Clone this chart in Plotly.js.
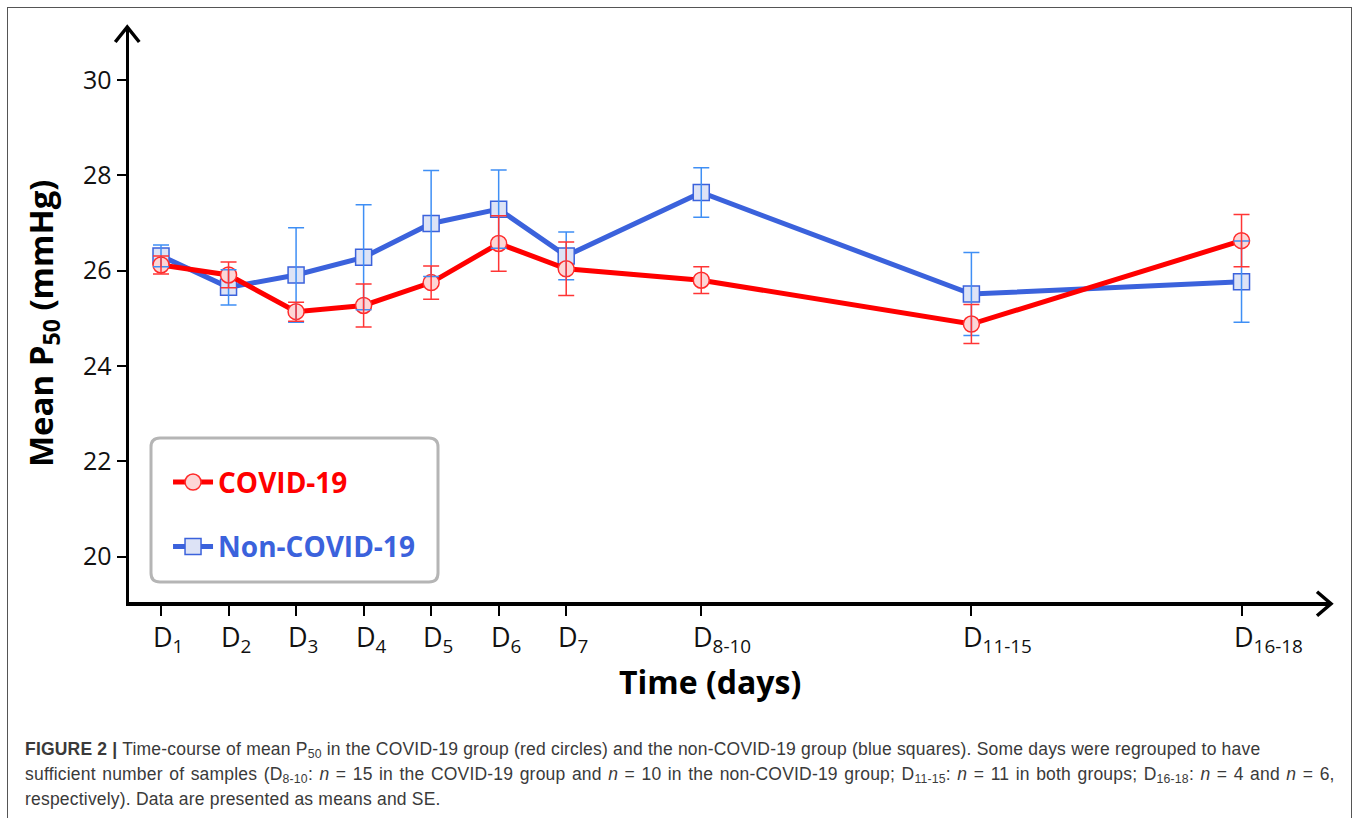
<!DOCTYPE html>
<html>
<head>
<meta charset="utf-8">
<script src="https://cdn.plot.ly/plotly-3.0.1.min.js"></script>
<style>
html,body{margin:0;padding:0;background:#fff;}
#wrap{position:relative;width:1357px;height:818px;overflow:hidden;background:#fff;}
#chart{position:absolute;left:0;top:0;width:1357px;height:818px;}
#frame{position:absolute;left:7px;top:7px;width:1345px;height:830px;border:1.5px solid #555;box-sizing:border-box;pointer-events:none;}
#caption{position:absolute;left:25px;top:737px;font-family:'Liberation Sans',Arial,sans-serif;font-size:17.5px;letter-spacing:0.2px;line-height:25px;color:#3a3a3a;white-space:nowrap;}
#caption sub{font-size:70%;vertical-align:-0.25em;line-height:0;}
#caption .l2{word-spacing:1.4px;}
</style>
</head>
<body>
<div id="wrap">
  <div id="chart"></div>
  <div id="frame"></div>
  <div id="caption"><b>FIGURE 2 |</b> Time-course of mean P<sub>50</sub> in the COVID-19 group (red circles) and the non-COVID-19 group (blue squares). Some days were regrouped to have<br><span class="l2">sufficient number of samples (D<sub>8-10</sub>: <i>n</i> = 15 in the COVID-19 group and <i>n</i> = 10 in the non-COVID-19 group; D<sub>11-15</sub>: <i>n</i> = 11 in both groups; D<sub>16-18</sub>: <i>n</i> = 4 and <i>n</i> = 6,</span><br>respectively). Data are presented as means and SE.</div>
</div>
<script>
// ---- data ----
const categories = ['D<sub>1</sub>','D<sub>2</sub>','D<sub>3</sub>','D<sub>4</sub>','D<sub>5</sub>','D<sub>6</sub>','D<sub>7</sub>','D<sub>8-10</sub>','D<sub>11-15</sub>','D<sub>16-18</sub>'];
const dayPos = [1, 2, 3, 4, 5, 6, 7, 9, 13, 17];
const covidMean = [26.12, 25.91, 25.14, 25.27, 25.75, 26.57, 26.04, 25.80, 24.88, 26.63];
const covidSE = [0.19, 0.27, 0.20, 0.45, 0.35, 0.58, 0.56, 0.28, 0.41, 0.55];
const nonCovidMean = [26.31, 25.65, 25.91, 26.28, 26.99, 27.29, 26.31, 27.64, 25.51, 25.77];
const nonCovidSE = [0.23, 0.37, 0.99, 1.10, 1.11, 0.82, 0.50, 0.52, 0.87, 0.85];
const yTicks = [20, 22, 24, 26, 28, 30];

const RED = '#ff0000', BLUE = '#3b62dc';
const FONT = 'Open Sans, Liberation Sans, Arial, sans-serif';

const traces = [
  {
    x: dayPos, y: nonCovidMean, type: 'scatter', mode: 'lines+markers',
    name: '<b><span style="color:#3b62dc">Non-COVID-19</span></b>',
    legendgroup: 'nc', legendrank: 2,
    line: {color: BLUE, width: 5},
    marker: {symbol: 'square', size: 16, color: '#dde3f6', line: {color: BLUE, width: 1.5}},
    hoverinfo: 'skip'
  },
  {
    x: dayPos, y: covidMean, type: 'scatter', mode: 'lines+markers',
    name: '<b><span style="color:#ff0000">COVID-19</span></b>',
    legendgroup: 'c', legendrank: 1,
    line: {color: RED, width: 5},
    marker: {symbol: 'circle', size: 16, color: '#fdd6d6', line: {color: '#ff2a2a', width: 1.5}},
    hoverinfo: 'skip'
  },
  {
    x: dayPos, y: nonCovidMean, type: 'scatter', mode: 'markers', showlegend: false,
    marker: {size: 1, color: 'rgba(0,0,0,0)'},
    error_y: {type: 'data', array: nonCovidSE, visible: true, color: '#3f8ff5', thickness: 1.5, width: 8},
    hoverinfo: 'skip'
  },
  {
    x: dayPos, y: covidMean, type: 'scatter', mode: 'markers', showlegend: false,
    marker: {size: 1, color: 'rgba(0,0,0,0)'},
    error_y: {type: 'data', array: covidSE, visible: true, color: '#ff3535', thickness: 1.5, width: 8},
    hoverinfo: 'skip'
  }
];

const X0 = 0.526, X1 = 18.31, Y0 = 19.05, Y1 = 31.09;

// x tick labels: the "D" sits centred on its tick, the subscript runs to the right
const tickLabelAnns = categories.map((t, i) => ({
  text: t, xref: 'x', yref: 'paper', x: dayPos[i], y: 0,
  xanchor: 'left', yanchor: 'top', xshift: -10, yshift: -14, showarrow: false,
  font: {family: FONT, size: 27, color: '#111'}
}));

const layout = {
  width: 1357, height: 818,
  margin: {l: 129, r: 27, t: 28, b: 216, pad: 0},
  paper_bgcolor: 'rgba(0,0,0,0)', plot_bgcolor: 'rgba(0,0,0,0)',
  showlegend: true,
  xaxis: {
    range: [X0, X1], showgrid: false, zeroline: false,
    showline: true, linecolor: '#000', linewidth: 3.5,
    ticks: 'outside', ticklen: 10, tickwidth: 2, tickcolor: '#000',
    tickvals: dayPos, showticklabels: false
  },
  yaxis: {
    range: [Y0, Y1], showgrid: false, zeroline: false,
    showline: true, linecolor: '#000', linewidth: 3.5,
    ticks: 'outside', ticklen: 9, tickwidth: 2, tickcolor: '#000',
    tickvals: yTicks,
    tickfont: {family: FONT, size: 25, color: '#111'}
  },
  annotations: tickLabelAnns.concat([
    {text: '<b>Time (days)</b>', xref: 'paper', yref: 'paper', x: 0.484, y: -0.138,
     xanchor: 'center', yanchor: 'middle', showarrow: false,
     font: {family: FONT, size: 32, color: '#000'}},
    {text: '<b>Mean P<sub>50</sub> (mmHg)</b>', xref: 'paper', yref: 'paper', x: -0.0724, y: 0.486,
     xanchor: 'center', yanchor: 'middle', showarrow: false, textangle: -90,
     font: {family: FONT, size: 33, color: '#000'}}
  ]),
  legend: {
    x: 0.0325, y: 0.252, xanchor: 'left', yanchor: 'top',
    bgcolor: 'rgba(0,0,0,0)', borderwidth: 0,
    font: {family: FONT, size: 28, color: '#000'},
    traceorder: 'grouped', tracegroupgap: 25, itemwidth: 40
  },
  shapes: [
    {type: 'path', xref: 'paper', yref: 'paper', xsizemode: 'pixel', ysizemode: 'pixel', xanchor: 0, yanchor: 0,
     path: 'M31,20 L300,20 Q309,20 309,29 L309,155 Q309,164 300,164 L31,164 Q22,164 22,155 L22,29 Q22,20 31,20 Z',
     line: {color: '#b5b5b5', width: 3}, fillcolor: 'rgba(0,0,0,0)'},
    {type: 'path', xref: 'paper', yref: 'paper', xsizemode: 'pixel', ysizemode: 'pixel', xanchor: 1, yanchor: 0,
     path: 'M-13,10.25 L1,-1.75 L-13,-13.75', line: {color: '#000', width: 3.5}},
    {type: 'path', xref: 'paper', yref: 'paper', xsizemode: 'pixel', ysizemode: 'pixel', xanchor: 0, yanchor: 1,
     path: 'M-13.75,-14 L-1.75,1 L10.25,-14', line: {color: '#000', width: 3.5}}
  ]
};

Plotly.newPlot('chart', traces, layout, {displayModeBar: false, staticPlot: true});
</script>
</body>
</html>
